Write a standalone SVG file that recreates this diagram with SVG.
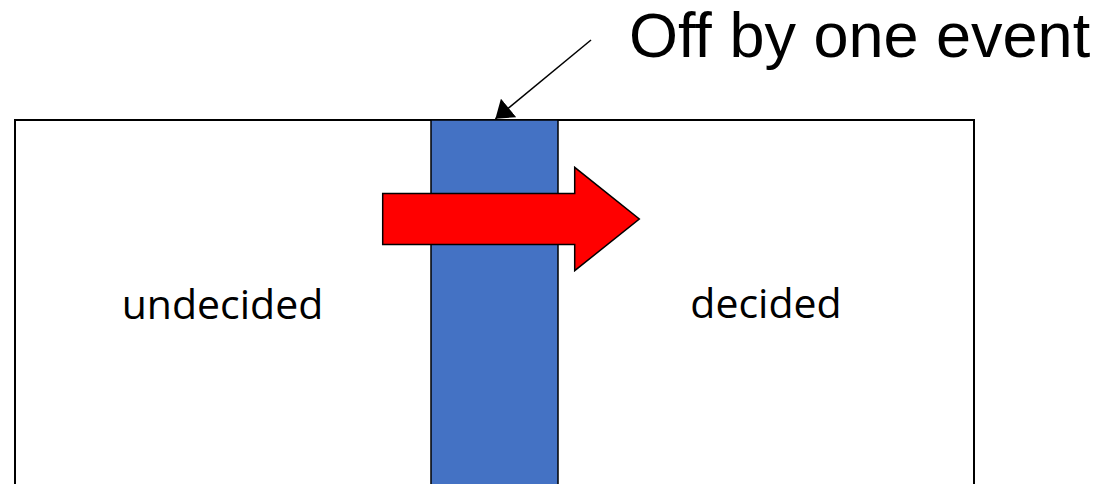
<svg xmlns="http://www.w3.org/2000/svg" width="1099" height="484" viewBox="0 0 1099 484">
<style>
.lbl{font-family:"Open Sans","Liberation Sans",sans-serif;font-size:41px;fill:#000;text-anchor:middle}
.title{font-family:"Liberation Sans",Arial,sans-serif;font-size:63px;fill:#000}
.edge{stroke:#000;stroke-width:2}
</style>
<defs>
<marker id="ah" markerUnits="userSpaceOnUse" markerWidth="18" markerHeight="24" refX="16.5" refY="11.6" orient="auto" viewBox="0 0 17 23.2">
<path d="M0,0 L16.5,11.6 L0,23.2 z" fill="#000"/>
</marker>
</defs>
<rect width="1099" height="484" fill="#fff"/>
<g id="region">
<rect x="15" y="120" width="959" height="380" fill="#fff" class="edge"/>
</g>
<g id="undecided">
<text class="lbl" x="222.5" y="319">undecided</text>
</g>
<g id="decided">
<text class="lbl" x="766" y="318">decided</text>
</g>
<g id="bar">
<rect x="431" y="120" width="127" height="380" fill="#4472C4" stroke="#000" stroke-width="1.5"/>
</g>
<g id="redarrow">
<polygon points="382.7,193.5 574.7,193.5 574.7,167.3 639.3,219 574.7,270.7 574.7,244.5 382.7,244.5" fill="#FF0000" stroke="#000" stroke-width="1.5"/>
</g>
<g id="label">
<text class="title" x="629" y="57">Off by one event</text>
</g>
<g id="connectors">
<line x1="591" y1="40" x2="495.4" y2="118.8" stroke="#000" stroke-width="1.5" marker-end="url(#ah)"/>
</g>
</svg>
